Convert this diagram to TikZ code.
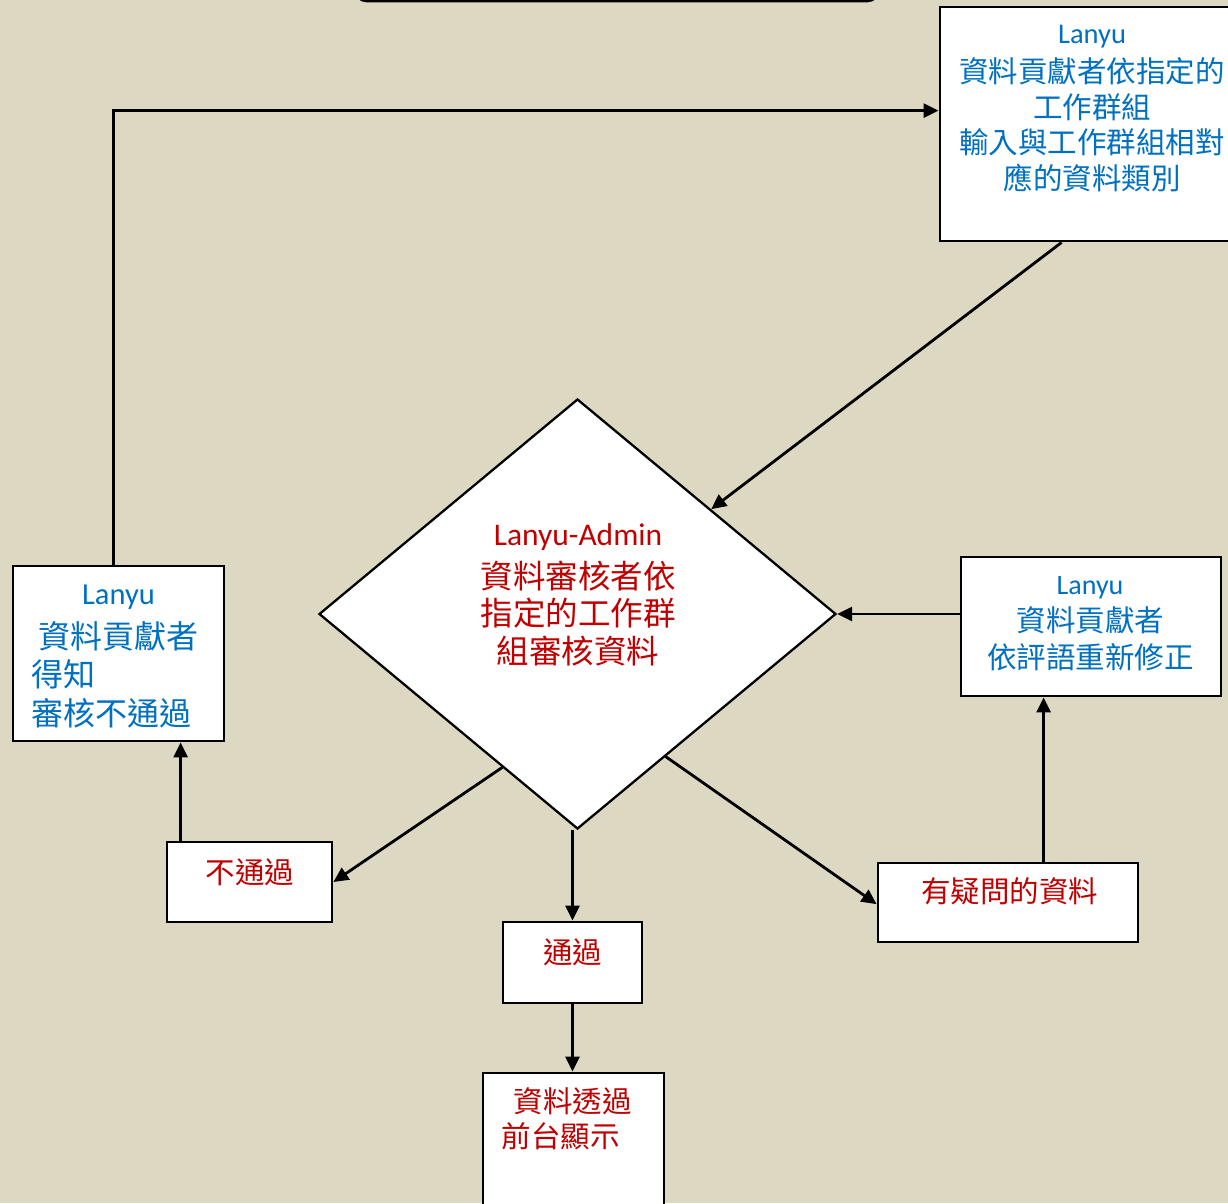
\documentclass[tikz,border=0pt]{standalone}
\usepackage{fontspec}
\usetikzlibrary{arrows.meta,shapes.geometric,fit,calc}
\newfontfamily\cjk{Noto Sans CJK TC}
\newfontfamily\lat{Carlito}
\definecolor{bgtan}{HTML}{DDD8C2}
\definecolor{lblue}{HTML}{0070C0}
\definecolor{lred}{HTML}{C00000}
\tikzset{
  box/.style={draw=black, line width=2.8pt, fill=white, inner sep=0pt},
  arr/.style={draw=black, line width=2.8pt, -{Triangle[length=15pt,width=14pt]}},
  bt/.style={text=lblue, inner sep=0pt, anchor=base},
  rt/.style={text=lred, inner sep=0pt, anchor=base},
  cj/.style={font={\cjk\fontsize{#1}{#1}\selectfont}},
  la/.style={font={\lat\fontsize{#1}{#1}\selectfont}},
}
\begin{document}
\begin{tikzpicture}[x=1pt,y=-1pt]
\useasboundingbox (0,0) rectangle (1228,1203);
\fill[bgtan] (0,0) rectangle (1228,1203);
\clip (0,0) rectangle (1228,1203);

% boxes
\node[box, rounded corners=12pt, fit={(355,-60) (879,1)}] (topbox) {};
\node[box, fit={(940,7) (1245,241)}] (tr) {};
\node[shape=diamond, draw=black, line width=2.3pt, fill=white, inner sep=0pt,
      minimum width=517pt, minimum height=430pt] (dia) at (577.5,614) {};
\node[box, fit={(13,566) (224,741)}] (lb) {};
\node[box, fit={(961,557) (1221,696)}] (rb) {};
\node[box, fit={(167,842) (332,922)}] (nob) {};
\node[box, fit={(503,922) (642,1003)}] (pass) {};
\node[box, fit={(878,863) (1138,942)}] (q) {};
\node[box, fit={(483,1073) (664,1240)}] (bot) {};

% texts: top right box
\node[bt, la=28.5] (t1) at (1092,43) {Lanyu};
\node[bt, cj=29.5] (t2) at (1092,82.5) {資料貢獻者依指定的};
\node[bt, cj=29.5] (t3) at (1092,118.5) {工作群組};
\node[bt, cj=29.5] (t4) at (1092,153.5) {輸入與工作群組相對};
\node[bt, cj=29.5] (t5) at (1092,189) {應的資料類別};

% diamond
\node[rt, la=31.5] (d1) at (578,545) {Lanyu-Admin};
\node[rt, cj=32.5] (d2) at (578,588.5) {資料審核者依};
\node[rt, cj=32.5] (d3) at (578,625.5) {指定的工作群};
\node[rt, cj=32.5] (d4) at (578,663.5) {組審核資料};

% left box
\node[bt, la=30.5] (l1) at (118.5,604.5) {Lanyu};
\node[bt, cj=32, anchor=base west] (l2) at (38.5,648) {資料貢獻者};
\node[bt, cj=32, anchor=base west] (l3) at (31.5,686) {得知};
\node[bt, cj=32, anchor=base west] (l4) at (31.5,725) {審核不通過};

% right box
\node[bt, la=28] (r1) at (1090,594) {Lanyu};
\node[bt, cj=29.5] (r2) at (1090.5,631.5) {資料貢獻者};
\node[bt, cj=29.5] (r3) at (1090.5,668.5) {依評語重新修正};

% small boxes
\node[rt, cj=29.5] (n1) at (250,883.5) {不通過};
\node[rt, cj=29.5] (p1) at (572.5,963.5) {通過};
\node[rt, cj=29.5] (q1) at (1009.5,902.5) {有疑問的資料};
\node[rt, cj=29.5, anchor=base west] (b1) at (513.5,1112.5) {資料透過};
\node[rt, cj=29.5, anchor=base west] (b2) at (501.5,1147.5) {前台顯示};

% connectors
\coordinate (lbtop) at ($(lb.north west)+(102,0)$);
\coordinate (trin) at ($(tr.north west)+(0,105)$);
\draw[arr] (lbtop) |- (trin);
\coordinate (trout) at ($(tr.south west)+(123,0)$);
\draw[arr] (trout) -- ($(dia.north)!0.515!(dia.east)$);
\draw[arr] (rb.west |- dia.east) -- (dia.east);
\draw[arr] ($(dia.west)!0.71!(dia.south)$) -- ($(nob.south east)!0.5!(nob.north east)$);
\coordinate (nobtop) at ($(nob.north west)+(15,0)$);
\draw[arr] (nobtop) -- (nobtop |- lb.south);
\draw[arr] (pass.north |- dia.south) -- (pass.north);
\draw[arr] (pass.south) -- (pass.south |- bot.north);
\draw[arr] ($(dia.east)!0.66!(dia.south)$) -- ($(q.north west)!0.52!(q.south west)$);
\coordinate (qtop) at ($(q.north west)+(167,0)$);
\draw[arr] (qtop) -- (qtop |- rb.south);
\end{tikzpicture}
\end{document}
